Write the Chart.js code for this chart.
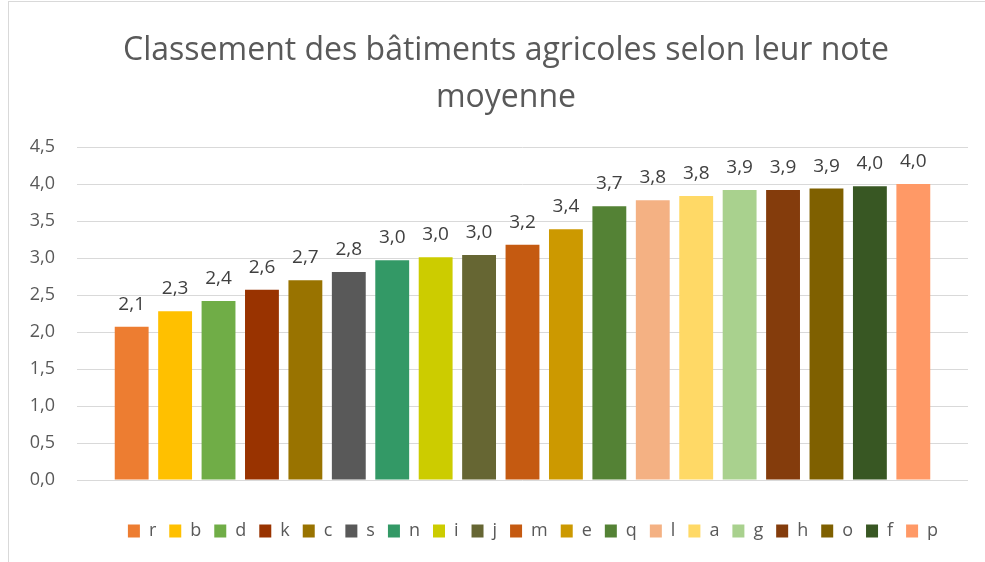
<!DOCTYPE html>
<html>
<head>
<meta charset="utf-8">
<script src="https://cdn.jsdelivr.net/npm/chart.js@4/dist/chart.umd.min.js"></script>
<style>
  html, body { margin: 0; padding: 0; background: #ffffff; }
  #frame { position: absolute; left: 8px; top: 1px; width: 1000px; height: 600px;
           border-left: 1px solid #d9d9d9; border-top: 1px solid #d9d9d9; }
  #wrap { position: absolute; left: 0; top: 0; width: 985px; height: 562px; }
</style>
</head>
<body>
<div id="frame"></div>
<div id="wrap"><canvas id="chart" width="985" height="562"></canvas></div>
<script>
// Buildings, sorted by their average score
var buildings = ['r', 'b', 'd', 'k', 'c', 's', 'n', 'i', 'j', 'm', 'e', 'q', 'l', 'a', 'g', 'h', 'o', 'f', 'p'];
var averageScores = [2.07, 2.28, 2.42, 2.57, 2.70, 2.81, 2.97, 3.01, 3.04, 3.18, 3.39, 3.70, 3.78, 3.84, 3.92, 3.92, 3.94, 3.97, 4.00];
var barColours = ['#ED7D31', '#FFC000', '#70AD47', '#993300', '#997300', '#595959', '#339966', '#CCCC00', '#666633',
                  '#C55A11', '#CC9900', '#548235', '#F4B183', '#FFD966', '#A9D18E', '#843C0C', '#7F6000', '#385723', '#FF9966'];
var yTicks = [0, 0.5, 1, 1.5, 2, 2.5, 3, 3.5, 4, 4.5];

var fontFamily = "'Open Sans', sans-serif";

function frenchNumber(v) {
    // One decimal, comma separator.
    return v.toFixed(1).replace('.', ',');
}

// Each building is its own series, all in one cluster.
var datasets = [];
for (var i = 0; i < buildings.length; i++) {
    datasets.push({
        label: buildings[i],
        data: [averageScores[i]],
        backgroundColor: barColours[i],
        borderWidth: 0,
        categoryPercentage: 0.926,
        barPercentage: 0.78
    });
}

// Value written above each bar.
var valueLabels = {
    id: 'valueLabels',
    afterDatasetsDraw: function(chart) {
        var ctx = chart.ctx;
        ctx.save();
        ctx.font = '19px ' + fontFamily;
        ctx.fillStyle = '#404040';
        ctx.textAlign = 'center';
        ctx.textBaseline = 'alphabetic';
        chart.data.datasets.forEach(function(ds, i) {
            var bar = chart.getDatasetMeta(i).data[0];
            ctx.fillText(frenchNumber(ds.data[0]), bar.x, bar.y - 17);
        });
        ctx.restore();
    }
};

// The chart frame is wider than the canvas: move title and legend right.
var boxShift = {
    id: 'boxShift',
    afterLayout: function(chart) {
        chart.titleBlock.left += 22;
        chart.titleBlock.right += 22;
        chart.legend.left += 49;
        chart.legend.right += 49;
    }
};

var chart = new Chart(document.getElementById('chart').getContext('2d'), {
    type: 'bar',
    data: { labels: [''], datasets: datasets },
    plugins: [valueLabels, boxShift],
    options: {
        responsive: false,
        animation: false,
        layout: { padding: { left: 0, right: 17, top: 0, bottom: 12 } },
        plugins: {
            title: {
                display: true,
                text: ['Classement des bâtiments agricoles selon leur note', 'moyenne'],
                color: '#595959',
                font: { family: fontFamily, size: 32, weight: 'normal', lineHeight: 1.47 },
                padding: { top: 27, bottom: 26 }
            },
            legend: {
                position: 'bottom',
                labels: {
                    boxWidth: 12,
                    boxHeight: 13,
                    padding: 13,
                    color: '#595959',
                    font: { family: fontFamily, size: 18 }
                }
            },
            tooltip: { enabled: false }
        },
        scales: {
            x: {
                ticks: { display: false },
                grid: { display: false },
                border: { display: false },
                afterFit: function(scale) { scale.height = 29; }
            },
            y: {
                min: 0,
                max: 4.5,
                afterBuildTicks: function(scale) {
                    scale.ticks = yTicks.map(function(v) { return { value: v }; });
                },
                afterFit: function(scale) { scale.width = 77; },
                ticks: {
                    color: '#595959',
                    padding: 22,
                    font: { family: fontFamily, size: 18 },
                    callback: function(v) { return frenchNumber(v); }
                },
                grid: { color: '#d9d9d9', lineWidth: 1, drawTicks: false },
                border: { display: false }
            }
        }
    }
});
</script>
</body>
</html>
